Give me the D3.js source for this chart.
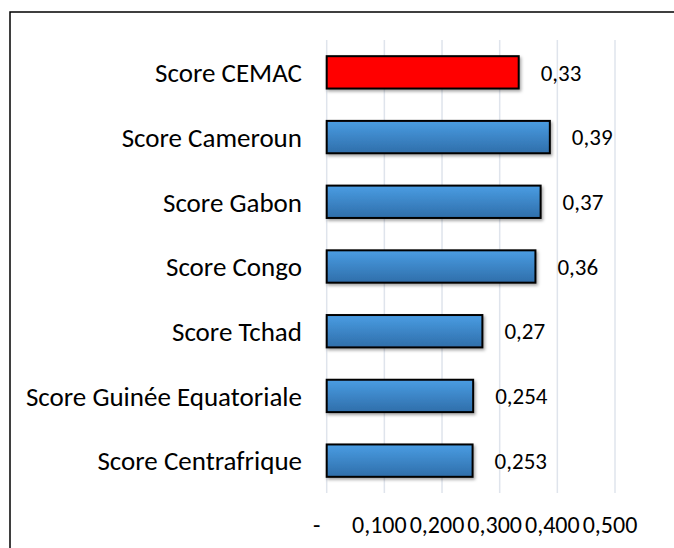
<!DOCTYPE html>
<html><head><meta charset="utf-8">
<script src="https://cdn.jsdelivr.net/npm/d3@7"></script>
<style>
html,body{margin:0;padding:0;background:#fff;}
svg{display:block;font-family:Carlito, Calibri, "Open Sans", sans-serif;}
</style></head>
<body><svg id="c" width="674" height="548"></svg>
<script>
const categories = ["Score CEMAC","Score Cameroun","Score Gabon","Score Congo","Score Tchad","Score Guinée Equatoriale","Score Centrafrique"];
const values = [0.333, 0.387, 0.371, 0.362, 0.27, 0.254, 0.253];
const valueLabels = ["0,33","0,39","0,37","0,36","0,27","0,254","0,253"];
const tickValues = [0, 0.1, 0.2, 0.3, 0.4, 0.5];
const tickLabels = ["-","0,100","0,200","0,300","0,400","0,500"];
const colors = ["red","blue","blue","blue","blue","blue","blue"];

const svg = d3.select("#c");
const defs = svg.append("defs");
const g1 = defs.append("linearGradient").attr("id","blueGrad").attr("x1",0).attr("y1",0).attr("x2",0).attr("y2",1);
g1.append("stop").attr("offset","0%").attr("stop-color","#4a9de3");
g1.append("stop").attr("offset","100%").attr("stop-color","#2f6eaa");
const f = defs.append("filter").attr("id","sh").attr("x","-10%").attr("y","-20%").attr("width","130%").attr("height","160%");
f.append("feDropShadow").attr("dx",1.5).attr("dy",2).attr("stdDeviation",1.5).attr("flood-color","#000").attr("flood-opacity",0.35);

// outer border (extends past the view on the right and bottom)
svg.append("rect").attr("x",10).attr("y",12).attr("width",800).attr("height",700)
  .attr("fill","none").attr("stroke","#000").attr("stroke-width",1.5);

const x = d3.scaleLinear().domain([0,0.5]).range([326.7,615]);
const y = d3.scaleBand().domain(categories).range([40,493]).paddingInner(0.5).paddingOuter(0.25);

// gridlines
svg.append("g").selectAll("line").data(tickValues).join("line")
  .attr("x1",d=>x(d)).attr("x2",d=>x(d)).attr("y1",40).attr("y2",493)
  .attr("stroke","#dfe4ec").attr("stroke-width",1.5);

// bars
svg.append("g").selectAll("rect").data(categories).join("rect")
  .attr("x",x(0)).attr("y",d=>y(d)).attr("height",y.bandwidth())
  .attr("width",(d,i)=>x(values[i])-x(0))
  .attr("fill",(d,i)=>colors[i]==="red"?"#ff0000":"url(#blueGrad)")
  .attr("stroke","#000").attr("stroke-width",2)
  .attr("filter","url(#sh)");

// value labels
svg.append("g").selectAll("text").data(categories).join("text")
  .attr("x",(d,i)=>x(values[i])+22).attr("y",d=>y(d)+y.bandwidth()/2)
  .attr("dy","0.36em").attr("font-size",23).attr("fill","#000")
  .text((d,i)=>valueLabels[i]);

// category axis labels
svg.append("g").selectAll("text").data(categories).join("text")
  .attr("x",302).attr("y",d=>y(d)+y.bandwidth()/2)
  .attr("dy","0.36em").attr("text-anchor","end").attr("font-size",27).attr("fill","#000")
  .text(d=>d);

// x axis tick labels
const xa = d3.axisBottom(x).tickValues(tickValues).tickFormat((d,i)=>tickLabels[i]).tickSize(0).tickPadding(0);
const ag = svg.append("g").attr("transform","translate(-5.5,516)").call(xa);
ag.select(".domain").remove();
ag.selectAll("text").attr("font-size",24).attr("fill","#000").attr("font-family","Carlito, Calibri, 'Open Sans', sans-serif")
  .attr("dx",(d,i)=>i===0?-5:0);
</script></body></html>
